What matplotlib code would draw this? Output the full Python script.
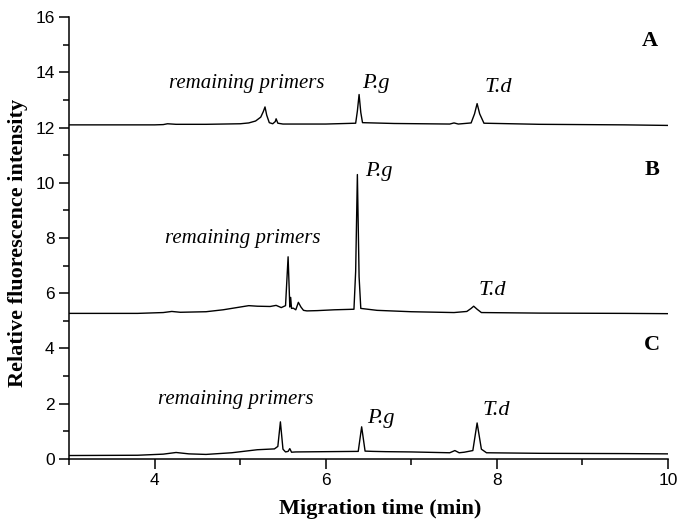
#!/usr/bin/env python3
import matplotlib
matplotlib.use("Agg")
import matplotlib.pyplot as plt
from matplotlib.ticker import MultipleLocator

plt.rcParams.update({
    "font.family": "sans-serif",
    "font.sans-serif": ["Liberation Sans", "DejaVu Sans"],
})

SERIF = "Liberation Serif"

# trace A (top)
time_a = [3.0, 3.5, 4.0, 4.1, 4.15, 4.25, 4.6, 5.0, 5.1, 5.18, 5.24, 5.27, 5.29,
          5.31, 5.34, 5.38, 5.41, 5.42, 5.44, 5.5, 6.0, 6.35, 6.37, 6.39, 6.41,
          6.43, 6.8, 7.45, 7.5, 7.55, 7.7, 7.74, 7.77, 7.80, 7.85, 8.5, 9.5, 10.0]
vals_a = [12.10, 12.10, 12.10, 12.11, 12.14, 12.12, 12.12, 12.14, 12.17, 12.24,
          12.38, 12.58, 12.75, 12.45, 12.18, 12.14, 12.22, 12.32, 12.16, 12.13,
          12.13, 12.16, 12.60, 13.20, 12.55, 12.18, 12.15, 12.13, 12.17, 12.13,
          12.17, 12.50, 12.87, 12.50, 12.16, 12.12, 12.10, 12.08]

# trace B (middle)
time_b = [3.0, 3.8, 4.1, 4.2, 4.3, 4.6, 4.8, 5.0, 5.1, 5.2, 5.35, 5.42, 5.48,
          5.53, 5.56, 5.58, 5.59, 5.60, 5.62, 5.65, 5.68, 5.71, 5.74, 5.78, 5.9,
          6.1, 6.33, 6.35, 6.37, 6.39, 6.41, 6.6, 7.0, 7.5, 7.65, 7.70, 7.73,
          7.77, 7.82, 8.5, 9.5, 10.0]
vals_b = [5.27, 5.27, 5.30, 5.34, 5.31, 5.33, 5.40, 5.50, 5.55, 5.53, 5.52,
          5.56, 5.48, 5.55, 7.32, 5.50, 5.85, 5.45, 5.46, 5.40, 5.67, 5.50,
          5.38, 5.36, 5.37, 5.40, 5.42, 6.80, 10.30, 6.60, 5.45, 5.38, 5.33,
          5.30, 5.34, 5.45, 5.53, 5.42, 5.30, 5.28, 5.27, 5.26]

# trace C (bottom)
time_c = [3.0, 3.8, 4.1, 4.25, 4.4, 4.6, 4.9, 5.2, 5.4, 5.44, 5.47, 5.50, 5.53,
          5.56, 5.58, 5.60, 5.65, 6.0, 6.38, 6.42, 6.46, 6.55, 6.7, 7.0, 7.45,
          7.51, 7.56, 7.62, 7.72, 7.77, 7.82, 7.88, 8.5, 9.5, 10.0]
vals_c = [0.12, 0.13, 0.17, 0.23, 0.18, 0.16, 0.22, 0.33, 0.36, 0.45, 1.34,
          0.35, 0.25, 0.27, 0.37, 0.24, 0.25, 0.26, 0.27, 1.16, 0.28, 0.27,
          0.26, 0.25, 0.22, 0.30, 0.22, 0.24, 0.30, 1.30, 0.35, 0.22, 0.20,
          0.19, 0.18]

# annotations: (text, left x, baseline y, size)
italic_notes = [
    ("remaining primers", 4.17, 13.44, 15),
    ("P.g", 6.42, 13.44, 16),
    ("T.d", 7.86, 13.28, 16),
    ("remaining primers", 4.12, 7.83, 15),
    ("P.g", 6.46, 10.24, 16),
    ("T.d", 7.79, 5.92, 16),
    ("remaining primers", 4.04, 1.97, 15),
    ("P.g", 6.48, 1.30, 16),
    ("T.d", 7.83, 1.60, 16),
]
panel_labels = [("A", 9.79, 14.95), ("B", 9.81, 10.3), ("C", 9.81, 3.96)]

fig = plt.figure(figsize=(6.78, 5.22), dpi=100)
ax = fig.add_axes([0.102, 0.121, 0.883, 0.846])

for t, v in ((time_a, vals_a), (time_b, vals_b), (time_c, vals_c)):
    ax.plot(t, v, color="black", linewidth=1.0)

for text, x, y, size in italic_notes:
    ax.text(x, y, text, fontsize=size, family=SERIF, style="italic",
            ha="left", va="baseline")
for text, x, y in panel_labels:
    ax.text(x, y, text, fontsize=16, family=SERIF, fontweight="bold",
            ha="center", va="baseline")

ax.set_xlim(3, 10)
ax.set_ylim(0, 16)
ax.xaxis.set_major_locator(MultipleLocator(2))
ax.xaxis.set_minor_locator(MultipleLocator(1))
ax.yaxis.set_major_locator(MultipleLocator(2))
ax.yaxis.set_minor_locator(MultipleLocator(1))
ax.tick_params(which="both", direction="out", labelsize=12.5, width=1.1)
ax.tick_params(which="major", length=7)
ax.tick_params(which="minor", length=4)
for side in ("left", "bottom"):
    ax.spines[side].set_linewidth(1.1)
ax.spines["top"].set_visible(False)
ax.spines["right"].set_visible(False)
ax.set_xticks([4, 6, 8, 10])

ax.set_xlabel("Migration time (min)", family=SERIF, fontweight="bold",
              fontsize=16)
ax.set_ylabel("Relative fluorescence intensity", family=SERIF,
              fontweight="bold", fontsize=16)
ax.xaxis.set_label_coords(0.52, -0.09)
ax.yaxis.set_label_coords(-0.068, 0.49)

fig.savefig("out.png", dpi=100)
